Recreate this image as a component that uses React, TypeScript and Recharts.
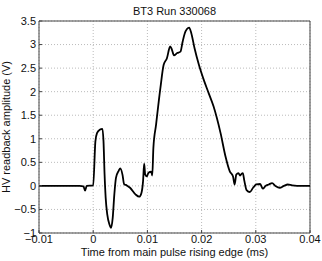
import { LineChart, Line, XAxis, YAxis, CartesianGrid, ReferenceLine } from "recharts";

// time in ms relative to main pulse rising edge
const times = [
  -0.01, -0.0025, -0.0018, -0.0015, -0.0012, 0.0, 0.0004, 0.0007, 0.0012, 0.0017,
  0.0019, 0.0021, 0.0023, 0.0026, 0.003, 0.0033, 0.0036, 0.0039, 0.0042, 0.0047,
  0.005, 0.0054, 0.0057, 0.0062, 0.0068, 0.0078, 0.0085, 0.0089, 0.0092, 0.0094,
  0.0096, 0.0099, 0.0102, 0.0107, 0.0109, 0.0111, 0.0116, 0.0124, 0.013, 0.0136,
  0.0142, 0.0145, 0.0149, 0.0155, 0.0161, 0.0165, 0.0169, 0.0173, 0.0177, 0.0181,
  0.0187, 0.0195, 0.0204, 0.0213, 0.0222, 0.0235, 0.0244, 0.0252, 0.0258, 0.0261,
  0.0264, 0.0268, 0.0271, 0.0274, 0.0276, 0.0279, 0.0283, 0.0289, 0.0295, 0.0301,
  0.0308, 0.0313, 0.0318, 0.0324, 0.033, 0.0337, 0.0344, 0.0352, 0.0359, 0.0367,
  0.0376, 0.04,
];

// HV readback amplitude (V)
const amplitude = [
  0, 0, -0.01, -0.1, 0, 0.01, 0.94, 1.12, 1.19, 1.21,
  0.95, 0.24, -0.25, -0.61, -0.82, -0.89, -0.68, -0.18, 0.17, 0.32,
  0.37, 0.24, 0.04, 0.01, -0.04, -0.18, -0.23, -0.15, 0.1, 0.47,
  0.24, 0.2, 0.28, 0.3, 0.22, 0.8, 1.3, 2.08, 2.57, 2.71,
  2.96, 2.9, 2.77, 2.82, 2.85, 3.06, 3.24, 3.33, 3.36, 3.24,
  2.92, 2.57, 2.25, 1.97, 1.69, 1.12, 0.63, 0.31, 0.2, 0.03,
  0.24, 0.27, 0.22, 0.26, 0.27, 0.1, -0.09, -0.13, -0.04, 0.03,
  0.04, -0.06, 0, 0.03, 0.06, -0.01, -0.04, 0, 0.03, 0.01,
  0, 0,
];

const xTicks = [-0.01, 0, 0.01, 0.02, 0.03, 0.04];
const xTickLabels = ["−0.01", "0", "0.01", "0.02", "0.03", "0.04"];
const yTicks = [-1, -0.5, 0, 0.5, 1, 1.5, 2, 2.5, 3, 3.5];
const yTickLabels = ["−1", "−0.5", "0", "0.5", "1", "1.5", "2", "2.5", "3", "3.5"];

const data = times.map((t, i) => ({ t, v: amplitude[i] }));

const font = "Liberation Sans, Arial, sans-serif";
const textStyle = { fontSize: 11, fill: "#111", fontFamily: font };
const frame = "#444";

export default function App() {
  return (
    <div style={{ position: "absolute", left: 0, top: 0, background: "#fff" }}>
      <LineChart
        width={322}
        height={261}
        data={data}
        margin={{ top: 21, right: 12, bottom: 0, left: 0 }}
      >
        <CartesianGrid stroke="#bbb" strokeDasharray="1 2" />
        <XAxis
          dataKey="t"
          type="number"
          domain={[-0.01, 0.04]}
          ticks={xTicks}
          tickFormatter={(v: number) => xTickLabels[xTicks.indexOf(v)] ?? String(v)}
          tick={textStyle}
          tickLine={{ stroke: frame }}
          tickSize={-3}
          tickMargin={5}
          stroke={frame}
          height={28}
          interval={0}
          label={{
            value: "Time from main pulse rising edge (ms)",
            position: "insideBottom",
            offset: 5,
            style: textStyle,
          }}
        />
        <YAxis
          type="number"
          domain={[-1, 3.5]}
          ticks={yTicks}
          tickFormatter={(v: number) => yTickLabels[yTicks.indexOf(v)] ?? String(v)}
          tick={textStyle}
          tickLine={{ stroke: frame }}
          tickSize={-3}
          tickMargin={6}
          stroke={frame}
          width={39}
          interval={0}
          label={{
            value: "HV readback amplitude (V)",
            angle: -90,
            position: "insideLeft",
            offset: 6,
            style: { ...textStyle, textAnchor: "middle" },
          }}
        />
        {/* box frame: top and right edges, title above */}
        <ReferenceLine
          y={3.5}
          stroke={frame}
          label={{ value: "BT3 Run 330068", position: "top", offset: 6, style: textStyle }}
        />
        <ReferenceLine x={0.04} stroke={frame} />
        <Line
          type="monotone"
          dataKey="v"
          stroke="#000"
          strokeWidth={1.8}
          dot={false}
          isAnimationActive={false}
        />
      </LineChart>
    </div>
  );
}
